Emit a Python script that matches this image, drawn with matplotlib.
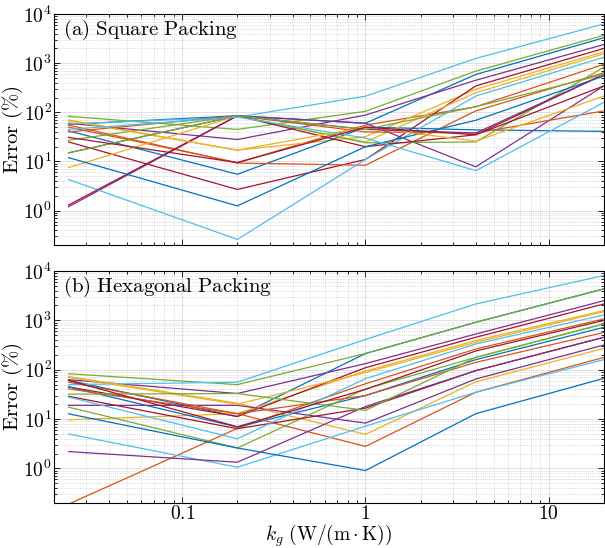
import math
import matplotlib
matplotlib.use("Agg")
import matplotlib.pyplot as plt
from matplotlib.ticker import LogLocator, FuncFormatter, NullFormatter

plt.rcParams['mathtext.fontset'] = 'cm'
plt.rcParams['font.family'] = 'serif'
plt.rcParams['font.serif'] = ['DejaVu Serif']

# gas conductivity values (W/(m K))
kg = [0.024, 0.2, 1, 4, 20]

# error (%) for each case, square packing
square = [
    [57, 85, 60, 590, 3300],
    [50, 9.5, 55, 130, 950],
    [70, 17, 32, 295, 1700],
    [60, 28, 88, 450, 2400],
    [83, 45, 105, 690, 3700],
    [58, 80, 213, 1250, 6300],
    [25, 2.7, 11, 345, 2000],
    [42, 5.5, 50, 44, 41],
    [55, 9.3, 8.4, 107, 640],
    [7.5, 85, 25, 250, 1560],
    [1.2, 85, 60, 7.8, 345],
    [27, 85, 24, 25, 830],
    [4.3, 0.26, 11, 215, 1320],
    [1.3, 85, 20, 35, 590],
    [12, 1.25, 20, 69, 550],
    [40, 85, 40, 38, 107],
    [67, 17, 50, 26, 215],
    [15, 85, 45, 38, 590],
    [15, 85, 45, 130, 590],
    [45, 80, 30, 6.5, 160],
    [31, 9.5, 50, 35, 345],
]

# error (%) for each case, hexagonal packing
hexagonal = [
    [61, 11.3, 213, 915, 4350],
    [0.19, 6.5, 52, 263, 1070],
    [9.7, 12.9, 94, 390, 1580],
    [63, 33, 133, 530, 2500],
    [83, 50, 213, 915, 4350],
    [50, 56, 410, 2150, 8100],
    [45, 11.3, 110, 455, 2150],
    [45, 6.9, 30, 160, 725],
    [41, 12.9, 2.8, 35, 178],
    [73, 21, 4.9, 57, 271],
    [19, 19, 8.3, 65, 317],
    [17.5, 2.6, 41, 178, 850],
    [5.0, 1.06, 7.2, 35, 160],
    [29, 6.4, 16.7, 96, 455],
    [12.8, 2.6, 0.91, 12.9, 67],
    [56, 12.9, 30, 141, 570],
    [70, 20, 88, 360, 1500],
    [2.2, 1.34, 18, 96, 455],
    [32, 33, 15, 178, 850],
    [28, 4.0, 66, 333, 1290],
    [61, 7, 40, 240, 1000],
]

matlab_colors = ['#0072BD', '#D95319', '#EDB120', '#7E2F8E',
                 '#77AC30', '#4DBEEE', '#A2142F']

fig = plt.figure(figsize=(6.05, 5.48), dpi=100)
ax1 = fig.add_axes([0.0893, 0.5529, 0.909, 0.4215])
ax2 = fig.add_axes([0.0893, 0.0821, 0.909, 0.4234])


def style_axis(ax, title, show_x):
    ax.set_xscale('log')
    ax.set_yscale('log')
    ax.set_xlim(0.02, 20)
    ax.set_ylim(0.2, 1e4)
    ax.yaxis.set_major_locator(LogLocator(base=10, numticks=10))
    ax.yaxis.set_minor_locator(LogLocator(base=10, subs=range(2, 10), numticks=20))
    ax.xaxis.set_minor_locator(LogLocator(base=10, subs=range(2, 10), numticks=20))
    ax.yaxis.set_major_formatter(FuncFormatter(lambda v, p: r'$10^{%d}$' % round(math.log10(v))))
    ax.yaxis.set_minor_formatter(NullFormatter())
    ax.xaxis.set_minor_formatter(NullFormatter())
    ax.set_xticks([0.1, 1, 10])
    if show_x:
        ax.xaxis.set_major_formatter(FuncFormatter(lambda v, p: r'$%g$' % v))
        ax.set_xlabel(r'$k_g\ (\mathrm{W/(m\cdot K)})$', fontsize=14)
        ax.xaxis.set_label_coords(0.5, -0.086)
    else:
        ax.xaxis.set_major_formatter(NullFormatter())
    ax.tick_params(which='both', direction='in', top=True, right=True,
                   labelsize=14, width=0.6, pad=1.5)
    ax.tick_params(which='major', length=4)
    ax.tick_params(which='minor', length=2)
    ax.grid(which='major', color='#e0e0e0', linewidth=0.7)
    ax.grid(which='minor', color='#bdbdbd', linestyle=':', linewidth=0.5)
    ax.set_axisbelow(True)
    ax.set_ylabel(r'$\mathrm{Error}\ (\%)$', fontsize=15)
    ax.yaxis.set_label_coords(-0.052, 0.5)
    for s in ax.spines.values():
        s.set_linewidth(0.8)
    ax.text(0.016, 0.985, title, transform=ax.transAxes, ha='left', va='top',
            fontsize=15)


for i, row in enumerate(square):
    ax1.plot(kg, row, color=matlab_colors[i % 7], linewidth=0.9)
for i, row in enumerate(hexagonal):
    ax2.plot(kg, row, color=matlab_colors[i % 7], linewidth=0.9)

style_axis(ax1, r'$\mathrm{(a)\ Square\ Packing}$', False)
style_axis(ax2, r'$\mathrm{(b)\ Hexagonal\ Packing}$', True)

fig.savefig('out.png', dpi=100)
